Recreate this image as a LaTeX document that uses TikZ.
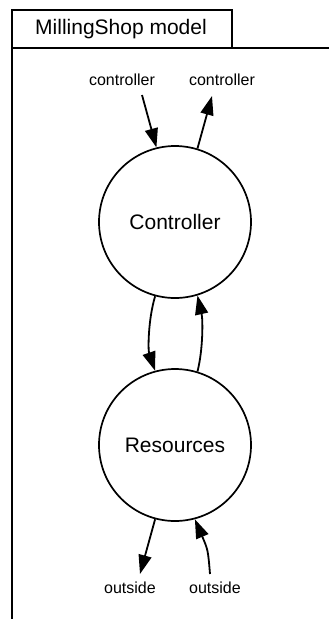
\documentclass[tikz,border=0pt]{standalone}
\usepackage{fontspec}
\setmainfont{Liberation Sans}
\usetikzlibrary{arrows.meta}
\begin{document}
\begin{tikzpicture}[x=1pt,y=-1pt,
  frameline/.style={line width=2pt},
  procnode/.style={circle,draw,line width=1.7pt,minimum size=152pt,inner sep=0pt,
    font=\fontsize{21}{24}\selectfont},
  portlabel/.style={inner sep=0pt,font=\fontsize{16}{19}\selectfont},
  flow/.style={line width=1.8pt,-{Triangle[length=19pt,width=13pt]}}]
  \useasboundingbox (0,0) rectangle (329,619);
  % window frame with title tab
  \draw[frameline] (12,619) -- (12,10) -- (232,10) -- (232,48);
  \draw[frameline] (12,48) -- (329,48);
  \node[inner sep=0pt,font=\fontsize{21}{24}\selectfont] (title) at (121,29) {MillingShop model};
  % processes
  \node[procnode] (C) at (175,222) {Controller};
  \node[procnode] (R) at (175,445) {Resources};
  % port labels
  \node[portlabel] (cin) at (122,80) {controller};
  \node[portlabel] (cout) at (222,80) {controller};
  \node[portlabel] (oout) at (130,588) {outside};
  \node[portlabel] (oin) at (215,588) {outside};
  \coordinate (cinend) at (142,95);
  \coordinate (coutend) at (212,96);
  \coordinate (ooutend) at (140,574);
  \coordinate (oinend) at (210,574);
  % flows
  \draw[flow] (cinend) -- (C.104);
  \draw[flow] (C.73) -- (coutend);
  \draw[flow] (C.255) .. controls (148,320) and (148,350) .. (R.105);
  \draw[flow] (R.73) .. controls (203,350) and (203,320) .. (C.287);
  \draw[flow] (R.255) -- (ooutend);
  \draw[flow] (oinend) .. controls (208,550) .. (R.285);
\end{tikzpicture}
\end{document}
